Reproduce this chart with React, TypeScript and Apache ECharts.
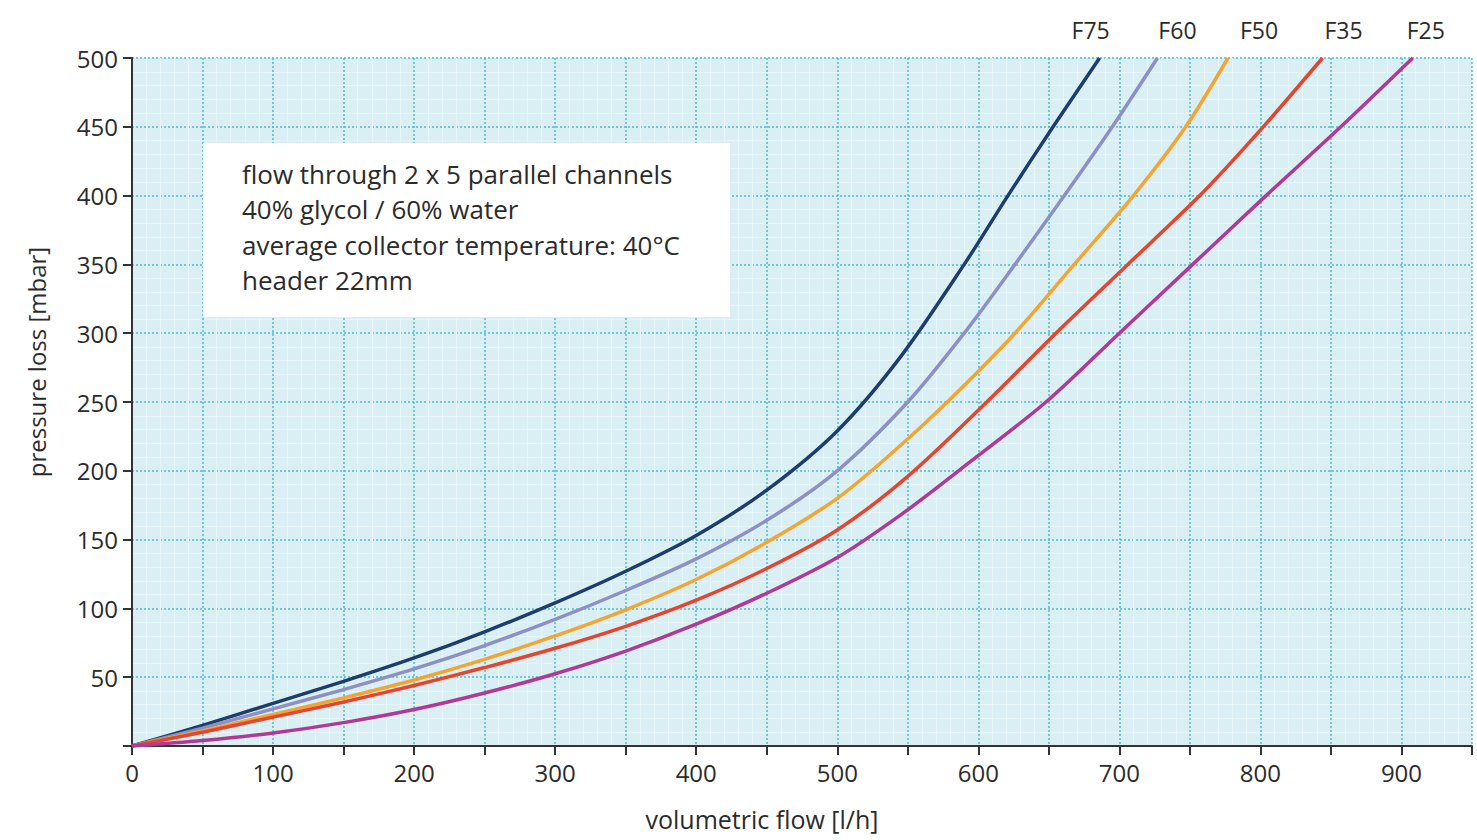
import React, { useEffect, useRef } from "react";
import * as echarts from "echarts";

const seriesNames = ["F75", "F60", "F50", "F35", "F25"];
const seriesColors = ["#1d3e6c", "#8d90c3", "#f2a533", "#e4452f", "#b03a93"];

const f75: [number, number][] = [
  [0, 0], [50, 15], [100, 31], [150, 47], [200, 64], [250, 83], [300, 104], [350, 127],
  [400, 153], [450, 186], [500, 229], [545, 283], [590, 350], [621, 400],
  [653, 450], [686, 500],
];
const f60: [number, number][] = [
  [0, 0], [50, 13], [100, 27], [150, 41], [200, 56], [250, 73], [300, 92], [350, 113],
  [400, 136], [450, 164], [500, 200], [550, 250], [590, 300], [626, 350], [661, 400],
  [695, 450], [727, 500],
];
const f50: [number, number][] = [
  [0, 0], [50, 11], [100, 23], [150, 35], [200, 48], [250, 63], [300, 80], [350, 99],
  [400, 121], [450, 148], [500, 180], [540, 214], [578, 250], [626, 300], [668, 350],
  [710, 400], [747, 450], [777, 500],
];
const f35: [number, number][] = [
  [0, 0], [50, 10], [100, 21], [150, 32], [200, 44], [250, 57], [300, 71], [350, 87],
  [400, 106], [450, 129], [500, 157], [550, 196], [606, 250], [655, 300], [706, 350],
  [757, 400], [802, 450], [844, 500],
];
const f25: [number, number][] = [
  [0, 0], [50, 4], [100, 9.5], [150, 17], [200, 26.5], [250, 38.5], [300, 52.5], [350, 69],
  [400, 88.5], [450, 111], [500, 137], [545, 168], [586, 200], [648, 250], [700, 300],
  [752, 350], [804, 400], [857, 450], [908, 500],
];
const allSeries = [f75, f60, f50, f35, f25];
const labelOffsets = [-9, 20, 31, 21, 13];

const infoLines = [
  "flow through 2 x 5 parallel channels",
  "40% glycol / 60% water",
  "average collector temperature: 40°C",
  "header 22mm",
];

const FONT = "'Open Sans', sans-serif";
const TXT = "#2b2b2b";

export default function App() {
  const ref = useRef<HTMLDivElement>(null);
  useEffect(() => {
    if (!ref.current) return;
    const chart = echarts.init(ref.current, undefined, { renderer: "svg" });
    const series = allSeries.map((arr, i) => ({
      type: "line",
      name: seriesNames[i],
      smooth: 0.3,
      showSymbol: true,
      symbolSize: 0,
      symbol: "circle",
      z: 5,
      lineStyle: { color: seriesColors[i], width: 3.5 },
      itemStyle: { color: seriesColors[i] },
      data: arr.map((p, j) =>
        j === arr.length - 1
          ? {
              value: p,
              label: {
                show: true,
                position: "top",
                distance: 17,
                offset: [labelOffsets[i], 0],
                formatter: seriesNames[i],
                color: TXT,
                fontSize: 23,
                fontFamily: FONT,
              },
            }
          : { value: p }
      ),
    }));
    chart.setOption({
      animation: false,
      backgroundColor: "#ffffff",
      grid: {
        left: 132,
        right: 5,
        top: 58,
        bottom: 94,
        show: true,
        backgroundColor: "#daeff3",
        borderWidth: 0,
      },
      xAxis: {
        type: "value",
        min: 0,
        max: 950,
        interval: 50,
        name: "volumetric flow [l/h]",
        nameLocation: "middle",
        nameGap: 60,
        nameTextStyle: { fontSize: 25, color: TXT, fontFamily: FONT, padding: [0, 80, 0, 0] },
        axisLine: { show: true, lineStyle: { color: "#333", width: 2 } },
        axisTick: { show: true, length: 9, lineStyle: { color: "#333", width: 2 } },
        axisLabel: {
          fontSize: 24,
          color: TXT,
          fontFamily: FONT,
          margin: 14,
          formatter: (v: number) => (v % 100 === 0 && v <= 900 ? String(v) : ""),
        },
        splitLine: { show: true, lineStyle: { color: "#52b9c9", width: 1.5, type: [2, 2] } },
        minorTick: { show: false, splitNumber: 5 },
        minorSplitLine: { show: true, lineStyle: { color: "#e6f5f8", width: 1 } },
      },
      yAxis: {
        type: "value",
        min: 0,
        max: 500,
        interval: 50,
        name: "pressure loss [mbar]",
        nameLocation: "middle",
        nameGap: 84,
        nameTextStyle: { fontSize: 24, color: TXT, fontFamily: FONT, padding: [0, 0, 0, 80] },
        axisLine: { show: true, lineStyle: { color: "#333", width: 2 } },
        axisTick: { show: true, length: 9, lineStyle: { color: "#333", width: 2 } },
        axisLabel: {
          fontSize: 24,
          color: TXT,
          fontFamily: FONT,
          margin: 14,
          formatter: (v: number) => (v === 0 ? "" : String(v)),
        },
        splitLine: { show: true, lineStyle: { color: "#52b9c9", width: 1.5, type: [2, 2] } },
        minorTick: { show: false, splitNumber: 5 },
        minorSplitLine: { show: true, lineStyle: { color: "#e6f5f8", width: 1 } },
      },
      graphic: [
        {
          type: "rect",
          left: 203,
          top: 143,
          shape: { width: 527, height: 174 },
          style: { fill: "#ffffff" },
          z: 3,
        },
        {
          type: "text",
          left: 242,
          top: 156,
          z: 4,
          style: {
            text: infoLines.join("\n"),
            fontSize: 26,
            lineHeight: 35.5,
            fill: TXT,
            fontFamily: FONT,
          },
        },
      ],
      series,
    });
    return () => chart.dispose();
  }, []);
  return (
    <div
      ref={ref}
      style={{ position: "absolute", left: 0, top: 0, width: 1477, height: 840 }}
    />
  );
}
